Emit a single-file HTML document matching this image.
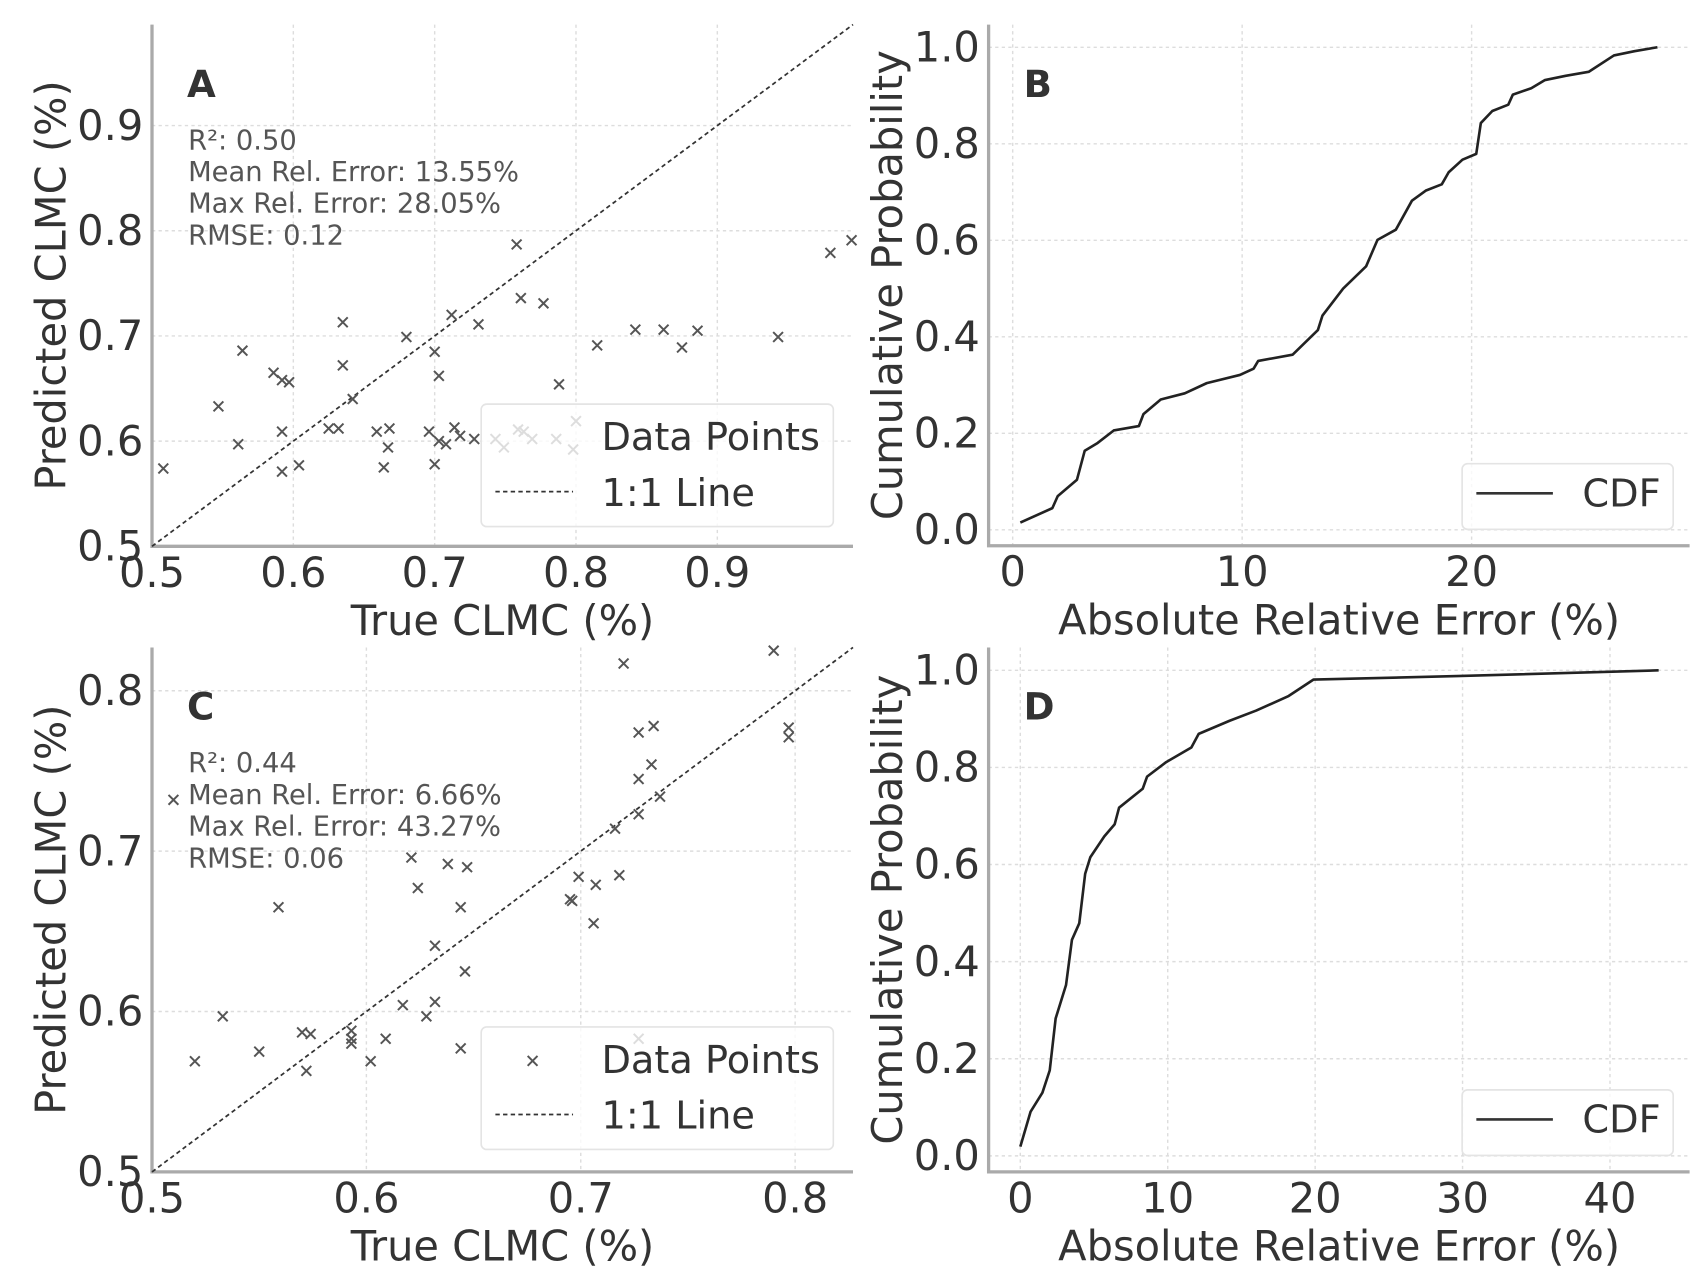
<!DOCTYPE html>
<html><head><meta charset="utf-8"><style>
html,body{margin:0;padding:0;background:#fff;}
svg{display:block;font-family:"DejaVu Sans","Liberation Sans",sans-serif;}
</style></head><body>
<svg id="fig" width="1706" height="1284" viewBox="0 0 1560 1174" preserveAspectRatio="none" xmlns="http://www.w3.org/2000/svg"></svg>
<script>
// ---- Panel A data ----
const aTrue = [0.508,0.547,0.561,0.564,0.586,0.592,0.597,0.592,0.592,0.604,0.625,0.632,0.635,0.635,0.642,0.659,0.668,0.667,0.664,0.680,0.700,0.703,0.700,0.696,0.703,0.708,0.714,0.718,0.728,0.712,0.731,0.743,0.749,0.758,0.761,0.759,0.763,0.769,0.777,0.788,0.786,0.798,0.800,0.815,0.842,0.862,0.875,0.886,0.943,0.980,0.995];
const aPred = [0.574,0.633,0.597,0.686,0.665,0.658,0.656,0.609,0.571,0.577,0.612,0.612,0.713,0.672,0.640,0.609,0.612,0.594,0.575,0.699,0.685,0.662,0.578,0.609,0.600,0.597,0.613,0.605,0.602,0.720,0.711,0.602,0.594,0.787,0.736,0.611,0.609,0.602,0.731,0.654,0.602,0.592,0.619,0.691,0.706,0.706,0.689,0.705,0.699,0.779,0.791];
const aTicks = [0.5,0.6,0.7,0.8,0.9];
const aStats = ["R²:  0.50","Mean Rel. Error: 13.55%","Max Rel. Error: 28.05%","RMSE: 0.12"];
// ---- Panel C data ----
const cTrue = [0.510,0.520,0.533,0.550,0.559,0.570,0.574,0.572,0.593,0.593,0.593,0.602,0.609,0.617,0.621,0.624,0.628,0.632,0.632,0.638,0.647,0.644,0.646,0.644,0.695,0.696,0.699,0.707,0.706,0.716,0.718,0.720,0.727,0.734,0.727,0.733,0.727,0.737,0.727,0.790,0.797,0.797];
const cPred = [0.732,0.569,0.597,0.575,0.665,0.587,0.586,0.563,0.588,0.583,0.580,0.569,0.583,0.604,0.696,0.677,0.597,0.641,0.606,0.692,0.690,0.665,0.625,0.577,0.670,0.669,0.684,0.679,0.655,0.714,0.685,0.817,0.774,0.778,0.745,0.754,0.723,0.734,0.583,0.825,0.777,0.771];
const cTicks = [0.5,0.6,0.7,0.8];
const cStats = ["R²: 0.44","Mean Rel. Error: 6.66%","Max Rel. Error: 43.27%","RMSE: 0.06"];
// ---- Panel B CDF ----
const bErr = [0.33,1.73,1.96,2.8,3.14,3.7,4.4,5.5,5.7,6.45,7.5,8.46,9.9,10.5,10.7,12.2,13.3,13.5,14.4,15.4,15.9,16.7,17.4,18.0,18.7,19.0,19.6,20.2,20.4,20.9,21.6,21.8,22.6,23.2,24.1,25.1,26.2,27.1,28.1];
const bProb = [0.015,0.045,0.07,0.104,0.164,0.18,0.206,0.215,0.24,0.27,0.283,0.304,0.321,0.334,0.35,0.363,0.414,0.444,0.5,0.546,0.601,0.622,0.682,0.703,0.716,0.741,0.767,0.779,0.843,0.868,0.881,0.902,0.915,0.932,0.941,0.949,0.983,0.992,1.0];
const bXTicks = [0,10,20];
// ---- Panel D CDF ----
const dErr = [0,0.7,1.5,2.0,2.4,3.1,3.5,4.0,4.4,4.75,5.7,6.4,6.7,8.3,8.6,9.9,11.6,12.1,14.2,16.0,18.2,19.9,29.6,43.3];
const dProb = [0.019,0.091,0.13,0.176,0.283,0.352,0.445,0.479,0.581,0.615,0.658,0.683,0.717,0.756,0.781,0.811,0.841,0.869,0.896,0.917,0.947,0.981,0.988,1.0];
const dXTicks = [0,10,20,30,40];
const cdfYTicks = [0.0,0.2,0.4,0.6,0.8,1.0];

const NS="http://www.w3.org/2000/svg";
const svg=document.getElementById('fig');
function mk(tag,attrs,parent){const e=document.createElementNS(NS,tag);for(const k in attrs)e.setAttribute(k,attrs[k]);(parent||svg).appendChild(e);return e;}
function lin(d0,d1,r0,r1){return v=>r0+(v-d0)/(d1-d0)*(r1-r0);}

function axes(name,box,xd,yd,xt,yt,fmtX,fmtY,xlabel,ylabel,letter){
  const g=mk('g',{});
  
  
  const X=lin(xd[0],xd[1],box.x0,box.x1), Y=lin(yd[0],yd[1],box.y1,box.y0);
  xt.forEach(t=>{const l=mk('line',{x1:X(t),x2:X(t),y1:box.y0,y2:box.y1,stroke:'#ddd','stroke-width':1.3,'stroke-dasharray':'3,3'},g);
    
    const tx=mk('text',{x:X(t),y:box.y1+37,'font-size':38,fill:'#333','text-anchor':'middle'},g);tx.textContent=fmtX(t);
    });
  yt.forEach(t=>{const l=mk('line',{x1:box.x0,x2:box.x1,y1:Y(t),y2:Y(t),stroke:'#ddd','stroke-width':1.3,'stroke-dasharray':'3,3'},g);
    
    const tx=mk('text',{x:box.x0-8,y:Y(t)+13,'font-size':38,fill:'#333','text-anchor':'end'},g);tx.textContent=fmtY(t);
    });
  const sp=mk('path',{d:`M${box.x0},${box.y0}V${box.y1}H${box.x1}`,stroke:'#aaa','stroke-width':3,fill:'none'},g);
  
  const xl=mk('text',{x:(box.x0+box.x1)/2,y:box.y1+81,'font-size':38,fill:'#333','text-anchor':'middle'},g);xl.textContent=xlabel;
  
  const cy=(box.y0+box.y1)/2, cx=box.x0-79;
  const yl=mk('text',{x:cx,y:cy,'font-size':38,fill:'#333','text-anchor':'middle',transform:`rotate(-90 ${cx} ${cy})`},g);yl.textContent=ylabel;
  
  const lt=mk('text',{x:box.x0+32,y:box.y0+66,'font-size':34,'font-weight':'bold',fill:'#333'},g);lt.textContent=letter;
  
  return {g,X,Y};
}

function scatterPanel(name,box,dom,xt,tx,ty,stats,letter){
  const {g,X,Y}=axes(name,box,dom,dom,xt,xt,v=>v.toFixed(1),v=>v.toFixed(1),'True CLMC (%)','Predicted CLMC (%)',letter);
  const dl=mk('line',{x1:X(dom[0]),y1:Y(dom[0]),x2:X(dom[1]),y2:Y(dom[1]),stroke:'#333','stroke-width':1.6,'stroke-dasharray':'4,3'},g);
  
  tx.forEach((v,i)=>{const x=X(v),y=Y(ty[i]),s=4.5;
    const p=mk('path',{d:`M${x-s},${y-s}L${x+s},${y+s}M${x-s},${y+s}L${x+s},${y-s}`,stroke:'#555','stroke-width':1.8},g);
    });
  stats.forEach((s,i)=>{const t=mk('text',{x:box.x0+33,y:box.y0+114+i*29,'font-size':25,fill:'#555'},g);t.textContent=s;
    });
  const lg=mk('g',{},g);
  const lx=box.x0+301, ly=box.y0+347;
  mk('rect',{x:lx,y:ly,width:322,height:112,rx:5,fill:'#fff','fill-opacity':0.8,stroke:'#e4e4e4','stroke-width':1.5},lg);
  const mx=lx+47,my=ly+31,s=4.5;
  if(letter==='C'){const m=mk('path',{d:`M${mx-s},${my-s}L${mx+s},${my+s}M${mx-s},${my+s}L${mx+s},${my-s}`,stroke:'#555','stroke-width':1.8},lg);
    }
  const t1=mk('text',{x:lx+110,y:ly+42,'font-size':35,fill:'#333'},lg);t1.textContent='Data Points';
  
  const ll=mk('line',{x1:lx+13,x2:lx+84,y1:ly+80,y2:ly+80,stroke:'#333','stroke-width':1.6,'stroke-dasharray':'4,3'},lg);
  
  const t2=mk('text',{x:lx+110,y:ly+93,'font-size':35,fill:'#333'},lg);t2.textContent='1:1 Line';
  
}

function cdfPanel(name,box,xd,xt,ex,py,letter){
  const {g,X,Y}=axes(name,box,xd,[-0.033,1.047],xt,cdfYTicks,v=>String(v),v=>v.toFixed(1),'Absolute Relative Error (%)','Cumulative Probability',letter);
  const d=ex.map((v,i)=>(i?'L':'M')+X(v).toFixed(1)+','+Y(py[i]).toFixed(1)).join('');
  const p=mk('path',{d,stroke:'#222','stroke-width':2.4,fill:'none','stroke-linejoin':'round'},g);
  
  const lg=mk('g',{},g);
  const lx=box.x1-208, ly=box.y1-75;
  mk('rect',{x:lx,y:ly,width:193,height:60,rx:5,fill:'#fff','fill-opacity':0.8,stroke:'#e4e4e4','stroke-width':1.5},lg);
  const ll=mk('line',{x1:lx+13,x2:lx+83,y1:ly+27,y2:ly+27,stroke:'#333','stroke-width':2.4},lg);
  
  const t=mk('text',{x:lx+110,y:ly+39,'font-size':35,fill:'#333'},lg);t.textContent='CDF';
  
}

scatterPanel('scatter-a',{x0:139,x1:780,y0:22.5,y1:499.5},[0.5,0.996],aTicks,aTrue,aPred,aStats,'A');
cdfPanel('cdf-b',{x0:904,x1:1545,y0:22.5,y1:499},[-1.05,29.5],bXTicks,bErr,bProb,'B');
scatterPanel('scatter-c',{x0:139,x1:780,y0:592,y1:1071.5},[0.5,0.827],cTicks,cTrue,cPred,cStats,'C');
cdfPanel('cdf-d',{x0:904,x1:1545,y0:592,y1:1071.5},[-2.15,45.4],dXTicks,dErr,dProb,'D');
</script>
</body></html>
